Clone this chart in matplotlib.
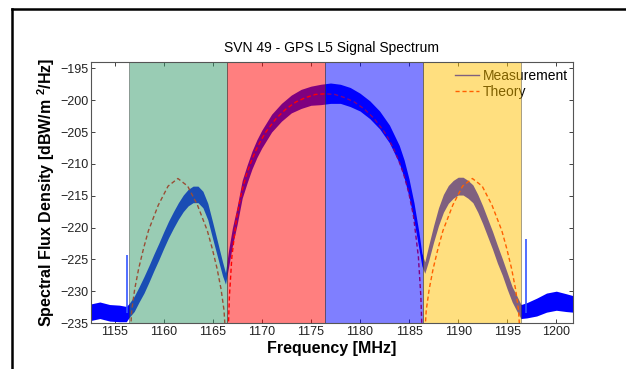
import numpy as np
import matplotlib
matplotlib.use('Agg')
import matplotlib.pyplot as plt
from matplotlib.lines import Line2D

plt.rcParams['font.family'] = ['Liberation Sans', 'DejaVu Sans']
plt.rcParams['mathtext.fontset'] = 'custom'
plt.rcParams['mathtext.rm'] = 'Liberation Sans'
plt.rcParams['mathtext.bf'] = 'Liberation Sans:bold'

# 测量频谱（中心值和噪声半宽，从图上读取）
meas_f = [1152.6, 1153.5, 1154.5, 1155.5, 1156.2,
          1156.5, 1157.0, 1157.5, 1158.0, 1158.5, 1159.0, 1159.5, 1160.0, 1160.5,
          1161.0, 1161.5, 1162.0, 1162.5, 1163.0, 1163.5, 1164.0, 1164.5, 1165.0,
          1165.5, 1166.0, 1166.3,
          1166.6, 1167.0, 1167.5, 1168.0, 1168.5, 1169.0, 1169.5, 1170.0, 1171.0,
          1172.0, 1173.0, 1174.0, 1175.0, 1176.0, 1177.0, 1178.0, 1179.0, 1180.0,
          1181.0, 1182.0, 1183.0, 1184.0, 1184.5, 1185.0, 1185.5, 1186.0, 1186.3,
          1186.6, 1187.0, 1187.5, 1188.0, 1188.5, 1189.0, 1189.5, 1190.0, 1190.5,
          1191.0, 1191.5, 1192.0, 1192.5, 1193.0, 1193.5, 1194.0, 1194.5, 1195.0,
          1195.5, 1196.0, 1196.4,
          1197.0, 1198.0, 1199.0, 1200.0, 1201.0, 1201.7]
meas_mid = [-233.3, -233.0, -233.4, -233.5, -233.6,
            -233.0, -232.0, -230.5, -229.0, -227.3, -225.5, -223.8, -222.0, -220.3,
            -218.8, -217.4, -216.2, -215.3, -214.8, -214.8, -215.6, -217.5, -220.5,
            -223.5, -226.5, -228.0,
            -225.0, -221.5, -218.0, -214.0, -211.6, -209.4, -207.6, -206.1, -203.6,
            -201.9, -200.6, -199.8, -199.3, -199.1, -198.9, -199.0, -199.5, -200.3,
            -201.5, -203.1, -205.3, -208.5, -210.8, -213.8, -217.5, -222.0, -225.0,
            -226.3, -224.0, -221.0, -218.3, -216.2, -214.8, -214.0, -213.5, -213.5,
            -214.0, -214.7, -216.2, -218.0, -220.0, -222.0, -224.2, -226.2, -228.4,
            -230.5, -232.0, -233.2,
            -233.0, -232.5, -231.8, -231.5, -231.8, -232.0]
meas_spread = [1.3, 1.3, 1.3, 1.3, 1.2,
               1.1, 1.2, 1.2, 1.3, 1.3, 1.3, 1.3, 1.3, 1.3,
               1.3, 1.3, 1.3, 1.3, 1.3, 1.3, 1.3, 1.3, 1.3,
               1.2, 1.1, 0.9,
               1.3, 1.4, 1.4, 1.4, 1.4, 1.4, 1.4, 1.4, 1.4,
               1.4, 1.4, 1.5, 1.5, 1.6, 1.6, 1.5, 1.5, 1.4,
               1.4, 1.4, 1.4, 1.4, 1.4, 1.4, 1.4, 1.3, 1.0,
               0.9, 1.2, 1.3, 1.4, 1.4, 1.4, 1.4, 1.4, 1.4,
               1.4, 1.4, 1.4, 1.4, 1.4, 1.4, 1.4, 1.3, 1.3,
               1.2, 1.2, 1.1,
               1.2, 1.4, 1.5, 1.5, 1.4, 1.3]

# 两个孤立尖峰
spike_f = [1156.25, 1196.95]
spike_top = [-224.3, -221.8]

# 理论谱（红色虚线）
theory_f = [1156.45, 1156.55, 1156.75, 1157.05, 1157.45, 1157.95, 1158.45, 1159.45,
            1160.45, 1161.45, 1162.45, 1163.45, 1164.45, 1164.95, 1165.45, 1165.85,
            1166.15, 1166.35, 1166.45,
            1166.6, 1166.7, 1166.95, 1167.45, 1167.95, 1168.45, 1168.95, 1169.45,
            1169.95, 1170.45, 1171.45, 1172.45, 1173.45, 1174.45, 1175.45, 1176.45,
            1177.45, 1178.45, 1179.45, 1180.45, 1181.45, 1182.45, 1182.95, 1183.45,
            1183.95, 1184.45, 1184.95, 1185.45, 1185.95, 1186.2, 1186.3, 1186.45,
            1186.55, 1186.75, 1187.05, 1187.45, 1187.95, 1188.45, 1189.45,
            1190.45, 1191.45, 1192.45, 1193.45, 1194.45, 1194.95, 1195.45, 1195.85,
            1196.15, 1196.35, 1196.45]
theory_db = [-250, -238.0, -233.0, -229.7, -226.5, -223.3, -220.5, -216.5,
             -213.5, -212.3, -213.5, -216.5, -220.5, -223.3, -226.5, -229.7,
             -233.0, -238.0, -250,
             -235.4, -230.8, -224.6, -218.2, -214.4, -211.6, -209.5, -207.7,
             -206.2, -204.9, -202.9, -201.4, -200.3, -199.6, -199.1, -199.0,
             -199.1, -199.6, -200.3, -201.4, -202.9, -204.9, -206.2, -207.7,
             -209.5, -211.6, -214.4, -218.2, -224.6, -230.8, -235.4, -250,
             -238.0, -233.0, -229.7, -226.5, -223.3, -220.5, -216.5,
             -213.5, -212.3, -213.5, -216.5, -220.5, -223.3, -226.5, -229.7,
             -233.0, -238.0, -250]

# 四个频段的背景色块
band_lo = [1156.45, 1166.45, 1176.45, 1186.45]
band_hi = [1166.45, 1176.45, 1186.45, 1196.45]
band_colors = ['#359B6B', '#FF0000', '#0000FF', '#FFC000']

xticks = [1155, 1160, 1165, 1170, 1175, 1180, 1185, 1190, 1195, 1200]
yticks = [-235, -230, -225, -220, -215, -210, -205, -200, -195]

fig = plt.figure(figsize=(6.26, 3.69), dpi=100)
ax = fig.add_axes([91 / 626, 1 - 323 / 369, 482 / 626, 261 / 369])

mid = np.array(meas_mid)
spr = np.array(meas_spread)
ax.fill_between(meas_f, mid - spr, mid + spr, color='#0000FF', lw=0, zorder=2)
ax.vlines(spike_f, -233.5, spike_top, color='#3355FF', lw=1.2, zorder=2)
ax.plot([], [], color='#0000FF', lw=1.0, label='Measurement')
ax.plot(theory_f, theory_db, color='#FF0000', ls='--', lw=1.0, dashes=(3, 2),
        label='Theory', zorder=2.5)

leg = ax.legend(loc='upper left', bbox_to_anchor=(0.755, 0.975), frameon=False,
                fontsize=10, handlelength=1.7, handletextpad=0.3,
                labelspacing=0.15, borderpad=0, borderaxespad=0)
leg.set_zorder(3)

for lo, hi, c in zip(band_lo, band_hi, band_colors):
    ax.axvspan(lo, hi, facecolor=c, alpha=0.5, edgecolor='#333333', lw=0.6, zorder=4)

ax.set_xlim(1152.6, 1201.7)
ax.set_ylim(-235, -194)
ax.set_xticks(xticks)
ax.set_yticks(yticks)
ax.tick_params(direction='in', top=True, right=True, length=3, width=0.6,
               labelsize=9, colors='#222222', pad=2)
for s in ax.spines.values():
    s.set_color('#555555')
    s.set_linewidth(0.8)
    s.set_zorder(5)

ax.set_title('SVN 49 - GPS L5 Signal Spectrum', fontsize=10, pad=7)
ax.set_xlabel('Frequency [MHz]', fontsize=11.5, fontweight='bold', labelpad=2)
ax.set_ylabel(r'Spectral Flux Density [dBW/m $^{\mathbf{2}}$/Hz]', fontsize=11.5,
              fontweight='bold', labelpad=2)

# 外框（只露出上边和左边）
fig.add_artist(Line2D([12 / 626, 12 / 626], [0, 1 - 9 / 369], color='black', lw=1.8))
fig.add_artist(Line2D([12 / 626, 1], [1 - 9 / 369, 1 - 9 / 369], color='black', lw=1.8))

fig.savefig('out.png', dpi=100)
